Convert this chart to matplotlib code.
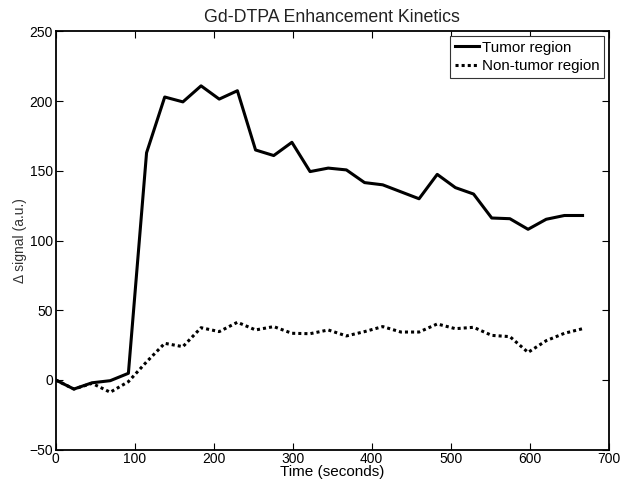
import matplotlib.pyplot as plt

plt.rcParams['font.family'] = ['Liberation Sans', 'DejaVu Sans']

time_s = [0, 23, 46, 69, 92, 115, 138, 161, 184, 207, 230, 253, 276, 299, 322,
          345, 368, 391, 414, 437, 460, 483, 506, 529, 552, 575, 598, 621, 644, 667]
tumor = [0, -6.5, -2, -0.5, 4.8, 163, 203, 199.5, 211, 201.5, 207.5, 165, 161, 170.5, 149.5,
         152, 150.7, 141.6, 140, 135, 130, 147.5, 138, 133.4, 116.2, 115.7, 108.1, 115.3, 118, 118]
non_tumor = [0, -6.5, -2.4, -8.8, -1.2, 13, 26.3, 23.9, 37.5, 34.7, 41.4, 35.9, 38.3, 33.5, 33.2,
             35.9, 31.6, 34.7, 38.3, 34.4, 34.4, 40.2, 36.8, 37.8, 32, 31.1, 19.8, 28.2, 33.5, 36.8]

fig = plt.figure(figsize=(6.29, 4.92), dpi=100)
ax = fig.add_axes([0.0886, 0.086, 0.879, 0.85])

ax.plot(time_s, tumor, color='black', lw=2.2, label='Tumor region')
ax.plot(time_s, non_tumor, color='black', lw=2.2, linestyle=(0, (1, 1)), label='Non-tumor region')

ax.set_xlim(0, 700)
ax.set_ylim(-50, 250)
ax.set_xticks(range(0, 701, 100))
ax.set_yticks(range(-50, 251, 50))
ax.tick_params(direction='in', top=True, right=True, length=5, width=0.8, labelsize=10, pad=2)
for s in ax.spines.values():
    s.set_linewidth(1.3)

ax.set_title('Gd-DTPA Enhancement Kinetics', fontsize=12.8, pad=7, color='#222222')
ax.set_xlabel('Time (seconds)', fontsize=11, labelpad=-1)
ax.set_ylabel('\u0394 signal (a.u.)', fontsize=10, labelpad=2, color='#333333')

leg = ax.legend(loc='upper right', fontsize=10.9, fancybox=False, edgecolor='#333333',
                handlelength=1.6, handletextpad=0.2, borderpad=0.3, labelspacing=0.3,
                borderaxespad=0.3, framealpha=1)
leg.get_frame().set_linewidth(0.8)

fig.savefig('out.png', dpi=100)
